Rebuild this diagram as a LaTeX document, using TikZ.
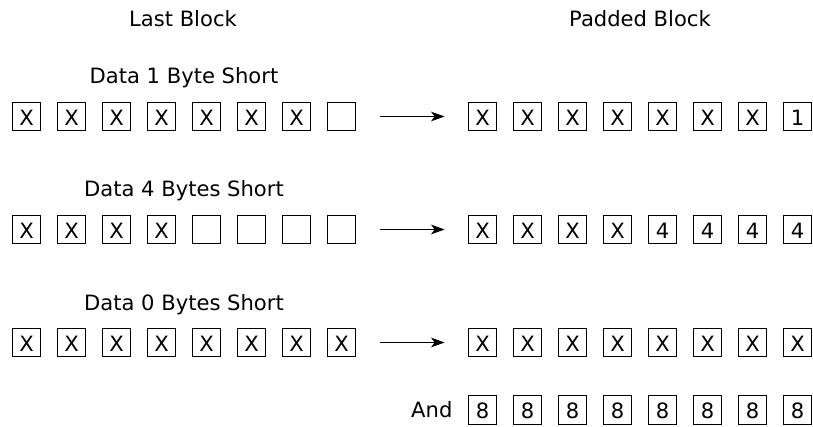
\documentclass[tikz,border=0pt]{standalone}
\usepackage{fontspec}
\setmainfont{DejaVu Sans}
\usetikzlibrary{positioning,arrows.meta}
\tikzset{
  txt/.style={font=\fontsize{15}{18}\selectfont},
  cell/.style={txt,draw,line width=0.9pt,minimum size=7.1mm,inner sep=0pt,
    text height=12.8pt,text depth=0pt},
  lbl/.style={txt,anchor=base,inner sep=0pt},
  padarrow/.style={-{Stealth[length=3.4mm,width=2.4mm,inset=0.9mm]},line width=0.8pt,
    shorten <=6mm,shorten >=5.75mm}
}
\begin{document}
\begin{tikzpicture}
    \useasboundingbox (0,0) rectangle (203.25mm,106.5mm);

    \node[lbl] (lasthead) at (45.75mm,99.8mm) {Last Block};
    \node[lbl] (padhead) at (160mm,99.8mm) {Padded Block};

    % one byte missing
    \node[lbl] (case1) at (46mm,85.5mm) {Data 1 Byte Short};
    \foreach \v [count=\i] in {X,X,X,X,X,X,X,{}}
      \node[cell] (a1-\i) at ({6.625mm+(\i-1)*11.25mm},77.375mm) {\v};
    \foreach \v [count=\i] in {X,X,X,X,X,X,X,1}
      \node[cell] (b1-\i) at ({120.625mm+(\i-1)*11.25mm},77.375mm) {\v};
    \draw[padarrow] (a1-8.east) -- (b1-1.west);

    % four bytes missing
    \node[lbl] (case2) at (46mm,57.25mm) {Data 4 Bytes Short};
    \foreach \v [count=\i] in {X,X,X,X,{},{},{},{}}
      \node[cell] (a2-\i) at ({6.625mm+(\i-1)*11.25mm},49.125mm) {\v};
    \foreach \v [count=\i] in {X,X,X,X,4,4,4,4}
      \node[cell] (b2-\i) at ({120.625mm+(\i-1)*11.25mm},49.125mm) {\v};
    \draw[padarrow] (a2-8.east) -- (b2-1.west);

    % full block
    \node[lbl] (case3) at (46mm,28.75mm) {Data 0 Bytes Short};
    \foreach \i in {1,...,8}
      \node[cell] (a3-\i) at ({6.625mm+(\i-1)*11.25mm},20.875mm) {X};
    \foreach \i in {1,...,8}
      \node[cell] (b3-\i) at ({120.625mm+(\i-1)*11.25mm},20.875mm) {X};
    \draw[padarrow] (a3-8.east) -- (b3-1.west);

    % extra block of eights
    \foreach \i in {1,...,8}
      \node[cell] (b4-\i) at ({120.625mm+(\i-1)*11.25mm},4mm) {8};
    \node[txt,inner sep=0pt,left=3.75mm of b4-1] (andlbl) {And};
  \end{tikzpicture}
\end{document}
